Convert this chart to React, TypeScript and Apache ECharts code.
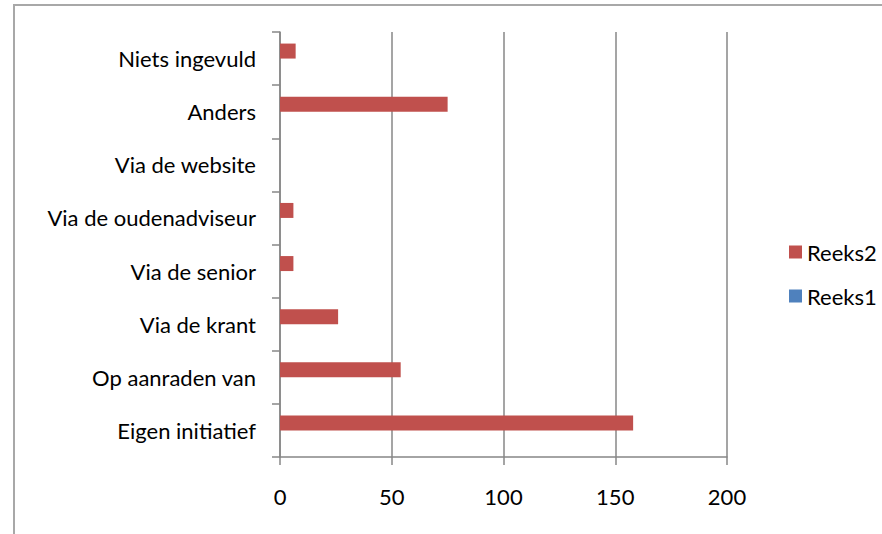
import React, { useEffect, useRef } from "react";
import * as echarts from "echarts";

const categories = [
  "Eigen initiatief",
  "Op aanraden van",
  "Via de krant",
  "Via de senior",
  "Via de oudenadviseur",
  "Via de website",
  "Anders",
  "Niets ingevuld",
];
const reeks1 = [0, 0, 0, 0, 0, 0, 0, 0];
const reeks2 = [158, 54, 26, 6, 6, 0, 75, 7];
const xTicks = { min: 0, max: 200, interval: 50 };

const FONT = "Lato";
const AXIS_COLOR = "#878787";

export default function App() {
  const ref = useRef<HTMLDivElement>(null);
  useEffect(() => {
    if (!ref.current) return;
    const chart = echarts.init(ref.current, undefined, { renderer: "svg" });
    chart.setOption({
      animation: false,
      backgroundColor: "#ffffff",
      textStyle: { fontFamily: FONT },
      graphic: [
        {
          type: "rect",
          shape: { x: 14, y: 5, width: 900, height: 600 },
          style: { fill: "none", stroke: "#a8a8a8", lineWidth: 2 },
          silent: true,
        },
      ],
      grid: { left: 280, right: 155, top: 32, bottom: 77, containLabel: false },
      legend: {
        orient: "vertical",
        left: 784,
        top: 236,
        itemWidth: 13,
        itemHeight: 13,
        itemGap: 22,
        icon: "rect",
        data: ["Reeks2", "Reeks1"],
        textStyle: { fontFamily: FONT, fontSize: 22, color: "#000", padding: [0, 0, 0, 0] },
      },
      xAxis: {
        type: "value",
        min: xTicks.min,
        max: xTicks.max,
        interval: xTicks.interval,
        axisLine: { show: true, lineStyle: { color: AXIS_COLOR, width: 1.5 } },
        axisTick: { show: true, length: 8, lineStyle: { color: AXIS_COLOR, width: 1.5 } },
        splitLine: { show: true, lineStyle: { color: AXIS_COLOR, width: 1.5 } },
        axisLabel: { fontFamily: FONT, fontSize: 22, color: "#000", margin: 28 },
      },
      yAxis: {
        type: "category",
        data: categories,
        boundaryGap: true,
        axisLine: { show: true, lineStyle: { color: AXIS_COLOR, width: 1.5 } },
        axisTick: { show: true, length: 8, lineStyle: { color: AXIS_COLOR, width: 1.5 } },
        splitLine: { show: false },
        axisLabel: { fontFamily: FONT, fontSize: 22, color: "#000", margin: 24 },
      },
      series: [
        {
          name: "Reeks2",
          type: "bar",
          data: reeks2,
          barWidth: 15,
          barGap: "0%",
          itemStyle: { color: "#c0504d" },
        },
        {
          name: "Reeks1",
          type: "bar",
          data: reeks1,
          barWidth: 15,
          barGap: "0%",
          itemStyle: { color: "#4f81bd" },
        },
      ],
    });
    return () => chart.dispose();
  }, []);
  return <div ref={ref} style={{ width: 882, height: 534, position: "absolute", left: 0, top: 0 }} />;
}
